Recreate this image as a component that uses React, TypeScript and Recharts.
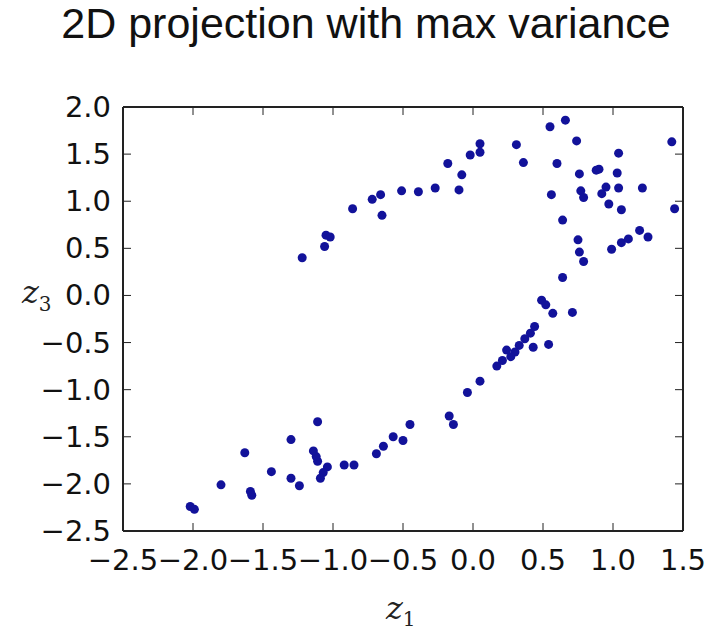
import React from "react";
import { ScatterChart, Scatter, XAxis, YAxis } from "recharts";

const TITLE = "2D projection with max variance";
const X_TICKS = [-2.5, -2.0, -1.5, -1.0, -0.5, 0.0, 0.5, 1.0, 1.5];
const Y_TICKS = [-2.5, -2.0, -1.5, -1.0, -0.5, 0.0, 0.5, 1.0, 1.5, 2.0];

// upper branch (top-left arc + right cloud)
const UPPER_Z1 = [
  -1.22, -1.06, -1.05, -1.02, -0.86, -0.72, -0.66, -0.65, -0.51, -0.39, -0.27, -0.1, -0.08,
  -0.18, -0.02, 0.05, 0.05, 0.31, 0.36, 0.55, 0.66, 0.74, 0.6, 0.56, 0.76, 0.77, 0.79, 0.9,
  0.88, 0.95, 0.92, 0.97, 1.04, 1.03, 1.04, 1.06, 1.21, 1.42, 1.44, 0.64, 0.75, 0.76, 0.79,
  0.99, 1.06, 1.11, 1.19, 1.25, 0.64,
];
const UPPER_Z3 = [
  0.4, 0.52, 0.64, 0.62, 0.92, 1.02, 1.07, 0.85, 1.11, 1.1, 1.14, 1.12, 1.28, 1.4, 1.49, 1.61,
  1.52, 1.6, 1.41, 1.79, 1.86, 1.64, 1.4, 1.07, 1.29, 1.11, 1.04, 1.34, 1.33, 1.15, 1.08, 0.97,
  1.51, 1.3, 1.14, 0.91, 1.14, 1.63, 0.92, 0.8, 0.59, 0.46, 0.36, 0.49, 0.56, 0.6, 0.69, 0.62,
  0.19,
];

// lower branch (diagonal band to bottom-left)
const LOWER_Z1 = [
  0.49, 0.52, 0.57, 0.71, 0.44, 0.41, 0.37, 0.43, 0.54, 0.33, 0.3, 0.27, 0.24, 0.21, 0.17, 0.05,
  -0.04, -0.17, -0.14, -0.45, -0.5, -0.57, -0.64, -0.69, -0.85, -0.92, -1.04, -1.07, -1.09,
  -1.11, -1.12, -1.14, -1.11, -1.3, -1.63, -1.44, -1.3, -1.24, -1.8, -1.59, -1.58, -2.02, -1.99,
];
const LOWER_Z3 = [
  -0.05, -0.1, -0.19, -0.18, -0.33, -0.4, -0.46, -0.55, -0.52, -0.53, -0.6, -0.65, -0.58, -0.69,
  -0.75, -0.91, -1.03, -1.28, -1.37, -1.37, -1.54, -1.5, -1.6, -1.68, -1.8, -1.8, -1.82, -1.88,
  -1.94, -1.76, -1.71, -1.65, -1.34, -1.53, -1.67, -1.87, -1.94, -2.02, -2.01, -2.08, -2.12,
  -2.24, -2.27,
];

const points = [
  ...UPPER_Z1.map((z1, i) => ({ z1, z3: UPPER_Z3[i] })),
  ...LOWER_Z1.map((z1, i) => ({ z1, z3: LOWER_Z3[i] })),
];

const fmt = (v: number) => (v < 0 ? "\u2212" : "") + Math.abs(v).toFixed(1);
const TICK_FONT = { fontFamily: "'DejaVu Sans', sans-serif", fontSize: 29, fill: "#111" };
const AXIS_LINE = { stroke: "#222", strokeWidth: 2 };

const BottomTick = (p: any) => (
  <g>
    <line x1={p.x} y1={p.y} x2={p.x} y2={p.y - 8} stroke="#222" />
    <text x={p.x} y={p.y + 39} textAnchor="middle" {...TICK_FONT}>
      {fmt(p.payload.value)}
    </text>
  </g>
);
const LeftTick = (p: any) => (
  <g>
    <line x1={p.x} y1={p.y} x2={p.x + 8} y2={p.y} stroke="#222" />
    <text x={p.x - 12} y={p.y + 10} textAnchor="end" {...TICK_FONT}>
      {fmt(p.payload.value)}
    </text>
  </g>
);
const TopTick = (p: any) => <line x1={p.x} y1={p.y} x2={p.x} y2={p.y + 8} stroke="#222" />;
const RightTick = (p: any) => <line x1={p.x} y1={p.y} x2={p.x - 8} y2={p.y} stroke="#222" />;

const Dot = (p: any) => <circle cx={p.cx} cy={p.cy} r={4.5} fill="#12129a" />;

export default function App() {
  return (
    <div style={{ position: "absolute", left: 0, top: 0, width: 708, height: 638, background: "#fff" }}>
      <ScatterChart width={708} height={638} margin={{ top: 97, right: 15, bottom: 57, left: 63 }}>
        <XAxis
          xAxisId="b"
          dataKey="z1"
          type="number"
          orientation="bottom"
          domain={[-2.5, 1.5]}
          ticks={X_TICKS}
          interval={0}
          allowDataOverflow
          height={50}
          tickLine={false}
          tickSize={0}
          tickMargin={0}
          axisLine={AXIS_LINE}
          tick={(p: any) => <BottomTick {...p} />}
        />
        <XAxis
          xAxisId="t"
          dataKey="z1"
          type="number"
          orientation="top"
          domain={[-2.5, 1.5]}
          ticks={X_TICKS}
          interval={0}
          allowDataOverflow
          height={10}
          tickLine={false}
          tickSize={0}
          tickMargin={0}
          axisLine={AXIS_LINE}
          tick={(p: any) => <TopTick {...p} />}
        />
        <YAxis
          yAxisId="l"
          dataKey="z3"
          type="number"
          domain={[-2.5, 2.0]}
          ticks={Y_TICKS}
          interval={0}
          allowDataOverflow
          width={60}
          tickLine={false}
          tickSize={0}
          tickMargin={0}
          axisLine={AXIS_LINE}
          tick={(p: any) => <LeftTick {...p} />}
        />
        <YAxis
          yAxisId="r"
          dataKey="z3"
          type="number"
          orientation="right"
          domain={[-2.5, 2.0]}
          ticks={Y_TICKS}
          interval={0}
          allowDataOverflow
          width={10}
          tickLine={false}
          tickSize={0}
          tickMargin={0}
          axisLine={AXIS_LINE}
          tick={(p: any) => <RightTick {...p} />}
        />
        <Scatter xAxisId="b" yAxisId="l" data={points} shape={Dot} isAnimationActive={false} />
      </ScatterChart>
      <svg width={708} height={638} style={{ position: "absolute", left: 0, top: 0, pointerEvents: "none" }}>
        <text x={366} y={38} textAnchor="middle" fontFamily="'Liberation Sans', Arial, sans-serif" fontSize={43} fill="#111">
          {TITLE}
        </text>
        <text x={22} y={303} fontFamily="'DejaVu Serif', serif" fontSize={32} fill="#222">
          <tspan fontStyle="italic">z</tspan>
          <tspan fontSize={20} dy={8}>3</tspan>
        </text>
        <text x={386} y={619} fontFamily="'DejaVu Serif', serif" fontSize={32} fill="#222">
          <tspan fontStyle="italic">z</tspan>
          <tspan fontSize={20} dy={7}>1</tspan>
        </text>
      </svg>
    </div>
  );
}
